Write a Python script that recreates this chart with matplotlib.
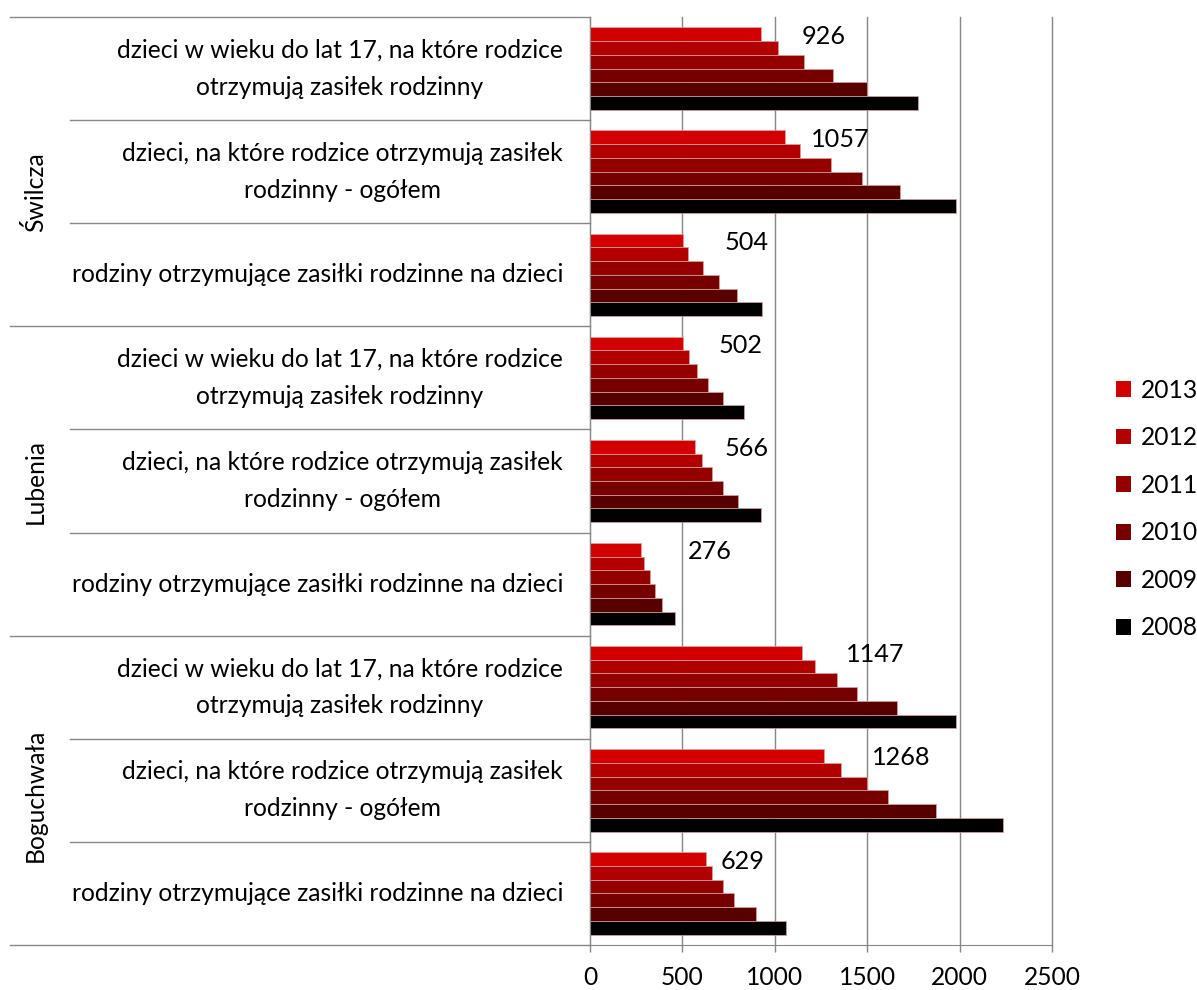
import matplotlib.pyplot as plt
from matplotlib.patches import Patch
from matplotlib.transforms import blended_transform_factory

plt.rcParams['font.family'] = ['Lato', 'DejaVu Sans']

groups = ['Świlcza', 'Lubenia', 'Boguchwała']
categories = [
    'dzieci w wieku do lat 17, na które rodzice\notrzymują zasiłek rodzinny',
    'dzieci, na które rodzice otrzymują zasiłek\nrodzinny - ogółem',
    'rodziny otrzymujące zasiłki rodzinne na dzieci',
]
years = ['2013', '2012', '2011', '2010', '2009', '2008']

# 9 rows per year: Świlcza (3), Lubenia (3), Boguchwała (3)
v2013 = [926, 1057, 504, 502, 566, 276, 1147, 1268, 629]
v2012 = [1015, 1136, 531, 535, 607, 293, 1220, 1359, 662]
v2011 = [1159, 1303, 612, 580, 659, 324, 1334, 1499, 718]
v2010 = [1317, 1474, 698, 639, 720, 353, 1443, 1614, 779]
v2009 = [1499, 1676, 796, 720, 801, 392, 1661, 1870, 900]
v2008 = [1775, 1983, 929, 835, 923, 459, 1982, 2234, 1058]

series = [v2013, v2012, v2011, v2010, v2009, v2008]
colors = ['#D20000', '#B20000', '#940000', '#760000', '#580000', '#000000']

# label offsets (pixels) of the 2013 values, as placed in the original
label_dx = [63, 55, 63, 58, 52, 69, 73, 77, 36]
group_y = [1.2, 4.0, 7.05]

GRAY = '#878787'
FS = 17.7

fig = plt.figure(figsize=(11.97, 9.9), dpi=100)
ax = fig.add_axes([590 / 1197, 45 / 990, 462 / 1197, 928 / 990])

nrows = len(v2013)
h = 0.8 / len(series)
for j, (vals, col) in enumerate(zip(series, colors)):
    ys = [i - 0.4 + (j + 0.5) * h for i in range(nrows)]
    ax.barh(ys, vals, height=h, color=col, edgecolor='#d9a3a3', linewidth=0.5, zorder=2)
    if j == 0:
        for i, v in enumerate(vals):
            ax.annotate(str(v), (v, ys[i]), xytext=(label_dx[i], -2),
                        textcoords='offset pixels', ha='center', va='center',
                        fontsize=FS + 0.5)

ax.set_xlim(0, 2500)
ax.set_ylim(nrows - 0.5, -0.5)
ax.set_xticks(range(0, 2501, 500))
ax.set_yticks([])
ax.xaxis.grid(True, color=GRAY, lw=1.0)
for gl in ax.get_xgridlines():
    gl.set_clip_on(False)
ax.set_axisbelow(True)
for s in ['top', 'right']:
    ax.spines[s].set_visible(False)
ax.spines['left'].set_color(GRAY)
ax.spines['bottom'].set_color(GRAY)
ax.tick_params(axis='x', colors=GRAY, length=5, width=1.0, pad=10, labelsize=FS,
               labelcolor='black')

trans = blended_transform_factory(ax.transAxes, ax.transData)
for k in range(nrows + 1):
    y = k - 0.5
    x0 = -1.255 if k % 3 == 0 else -1.1255
    ax.plot([x0, 0], [y, y], transform=trans, clip_on=False, color=GRAY, lw=1.0)

for i in range(nrows):
    ax.text(-27 / 462, i, categories[i % 3], transform=trans, ha='right', va='center',
            multialignment='center', fontsize=FS, linespacing=1.75)

for g, name in enumerate(groups):
    ax.text(-1.201, group_y[g], name, transform=trans, rotation=90,
            ha='center', va='center', fontsize=FS)

handles = [Patch(facecolor=c) for c in colors]
fig.legend(handles, years, loc='center left', bbox_to_anchor=(1116 / 1197, 1 - 509 / 990),
           frameon=False, fontsize=FS, handlelength=0.62, handleheight=0.62,
           handletextpad=0.4, labelspacing=1.0, borderaxespad=0, borderpad=0)

fig.savefig('out.png', dpi=100)
